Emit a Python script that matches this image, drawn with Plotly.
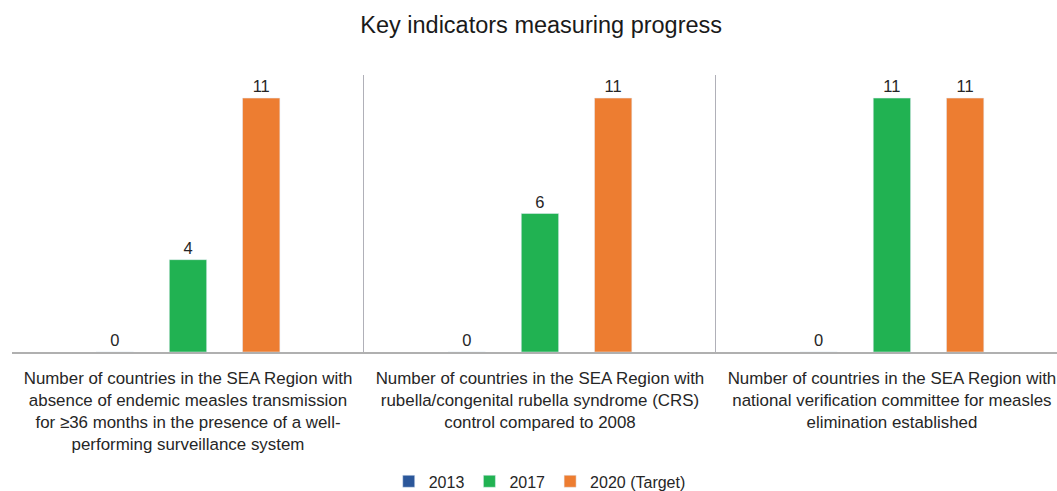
import plotly.graph_objects as go

categories = [
    "Number of countries in the SEA Region with<br>absence of endemic measles transmission<br>for ≥36 months in the presence of a well-<br>performing surveillance system",
    "Number of countries in the SEA Region with<br>rubella/congenital rubella syndrome (CRS)<br>control compared to 2008",
    "Number of countries in the SEA Region with<br>national verification committee for measles<br>elimination established",
]
series_names = ["2013", "2017", "2020 (Target)"]
values_2013 = [0, 0, 0]
values_2017 = [4, 6, 11]
values_2020 = [11, 11, 11]
colors = ["#2B579A", "#21B252", "#ED7D31"]

fig = go.Figure()
for name, vals, col in zip(series_names, [values_2013, values_2017, values_2020], colors):
    fig.add_trace(go.Bar(
        name=name, x=categories, y=vals, marker_color=col,
        text=[str(v) for v in vals], textposition="outside",
        textfont=dict(size=16.5, color="#262626"), cliponaxis=False,
    ))

fig.update_layout(
    width=1057, height=491,
    margin=dict(l=12, r=0, t=75, b=139, autoexpand=False),
    paper_bgcolor="white", plot_bgcolor="white",
    font=dict(family="Liberation Sans, Arial, sans-serif", color="#262626"),
    title=dict(text="Key indicators measuring progress", x=0.512, xanchor="center",
               y=0.95, yanchor="middle", yref="container",
               font=dict(size=23.5, color="#1a1a1a")),
    barmode="group", bargap=0.376, bargroupgap=0.49,
    showlegend=True,
    legend=dict(orientation="h", x=0.505, xanchor="center", y=-0.467, yanchor="middle",
                font=dict(size=16, color="#262626"), itemwidth=30, traceorder="normal"),
)
fig.update_xaxes(
    range=[-0.5, 2.469], tickson="boundaries", showgrid=True, gridcolor="#B0B0B8", gridwidth=1,
    showline=True, linecolor="#B0B0B0", linewidth=2, ticks="", automargin=False,
    tickfont=dict(size=16.9, color="#262626"), ticklabelstandoff=10, fixedrange=True,
)
fig.update_yaxes(range=[0, 12], visible=False, showgrid=False, zeroline=False, automargin=False)

fig.write_html("out.html")
